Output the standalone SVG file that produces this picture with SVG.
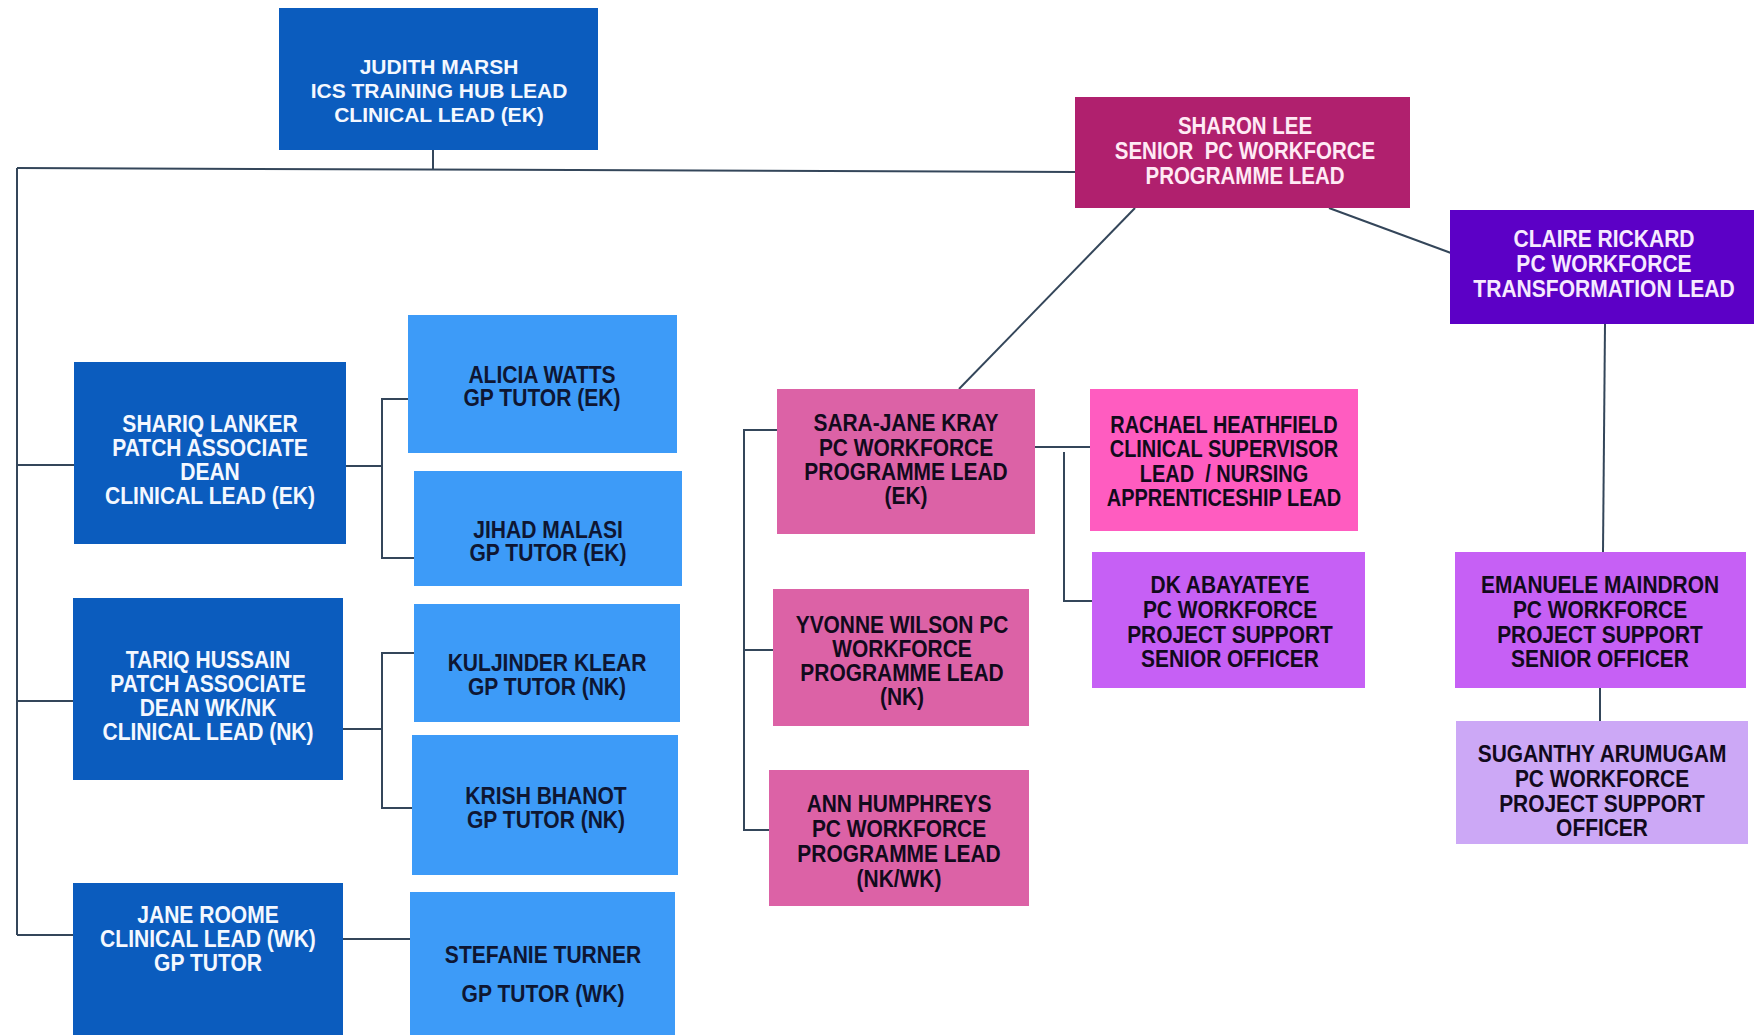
<svg xmlns="http://www.w3.org/2000/svg" width="1754" height="1035" viewBox="0 0 1754 1035">
<style>
  text { font-family: "Liberation Sans", Arial, sans-serif; font-weight: bold; font-size: 23px; text-anchor: middle; }
  .j text { font-size: 21px; }
  .lt { fill: #F4F8FF; }
  .dk { fill: #120A1C; }
  .nv { fill: #0E1633; }
  .b1 { fill: #0B5CBE; }
  .b2 { fill: #3D9BF8; }
  .p1 { fill: #B0206E; }
  .p2 { fill: #DC62A6; }
  .p3 { fill: #FF5CC0; }
  .v1 { fill: #5C00C6; }
  .v2 { fill: #C660F5; }
  .v3 { fill: #CCA8F6; }
  .con { stroke: #34465A; stroke-width: 2; fill: none; }
</style>
<rect width="1754" height="1035" fill="#FFFFFF"/>
<g id="connectors" class="con">
  <path d="M433 150 V169"/>
  <path d="M17 168 L1075 172"/>
  <path d="M17 168 V935"/>
  <path d="M17 465 H74"/>
  <path d="M17 701 H73"/>
  <path d="M17 935 H73"/>
  <path d="M346 466 H382"/>
  <path d="M408 399 H382 V558 H414"/>
  <path d="M343 729 H382"/>
  <path d="M414 653 H382 V808 H412"/>
  <path d="M343 939 H411"/>
  <path d="M1135 208 L959 389"/>
  <path d="M1329 208 L1451 253"/>
  <path d="M1605 324 L1603 552"/>
  <path d="M1600 688 V721"/>
  <path d="M777 430 H744 V830 H769"/>
  <path d="M744 650 H773"/>
  <path d="M1035 447 H1090"/>
  <path d="M1064 452 V601 H1092"/>
</g>
<g id="judith" class="j">
  <rect class="b1" x="279" y="8" width="319" height="142"/>
  <text class="lt" x="439" y="74">JUDITH MARSH</text>
  <text class="lt" x="439" y="98">ICS TRAINING HUB LEAD</text>
  <text class="lt" x="439" y="122">CLINICAL LEAD (EK)</text>
</g>
<g id="sharon">
  <rect class="p1" x="1075" y="97" width="335" height="111"/>
  <g transform="translate(1245 0) scale(0.89 1)" fill="#FFEAF5">
    <text x="0" y="134">SHARON LEE</text>
    <text x="0" y="159" xml:space="preserve">SENIOR  PC WORKFORCE</text>
    <text x="0" y="184">PROGRAMME LEAD</text>
  </g>
</g>
<g id="claire">
  <rect class="v1" x="1450" y="210" width="310" height="114"/>
  <g transform="translate(1604 0) scale(0.915 1)" fill="#F6EAFF">
    <text x="0" y="247">CLAIRE RICKARD</text>
    <text x="0" y="272">PC WORKFORCE</text>
    <text x="0" y="297">TRANSFORMATION LEAD</text>
  </g>
</g>
<g id="shariq">
  <rect class="b1" x="74" y="362" width="272" height="182"/>
  <g transform="translate(210 0) scale(0.915 1)" class="lt">
    <text x="0" y="432">SHARIQ LANKER</text>
    <text x="0" y="456">PATCH ASSOCIATE</text>
    <text x="0" y="480">DEAN</text>
    <text x="0" y="504">CLINICAL LEAD (EK)</text>
  </g>
</g>
<g id="tariq">
  <rect class="b1" x="73" y="598" width="270" height="182"/>
  <g transform="translate(208 0) scale(0.915 1)" class="lt">
    <text x="0" y="668">TARIQ HUSSAIN</text>
    <text x="0" y="692">PATCH ASSOCIATE</text>
    <text x="0" y="716">DEAN WK/NK</text>
    <text x="0" y="740">CLINICAL LEAD (NK)</text>
  </g>
</g>
<g id="jane">
  <rect class="b1" x="73" y="883" width="270" height="160"/>
  <g transform="translate(208 0) scale(0.915 1)" class="lt">
    <text x="0" y="923">JANE ROOME</text>
    <text x="0" y="947">CLINICAL LEAD (WK)</text>
    <text x="0" y="971">GP TUTOR</text>
  </g>
</g>
<g id="alicia">
  <rect class="b2" x="408" y="315" width="269" height="138"/>
  <g transform="translate(542 0) scale(0.915 1)" class="nv">
    <text x="0" y="383">ALICIA WATTS</text>
    <text x="0" y="406">GP TUTOR (EK)</text>
  </g>
</g>
<g id="jihad">
  <rect class="b2" x="414" y="471" width="268" height="115"/>
  <g transform="translate(548 0) scale(0.915 1)" class="nv">
    <text x="0" y="538">JIHAD MALASI</text>
    <text x="0" y="561">GP TUTOR (EK)</text>
  </g>
</g>
<g id="kuljinder">
  <rect class="b2" x="414" y="604" width="266" height="118"/>
  <g transform="translate(547 0) scale(0.915 1)" class="nv">
    <text x="0" y="671">KULJINDER KLEAR</text>
    <text x="0" y="695">GP TUTOR (NK)</text>
  </g>
</g>
<g id="krish">
  <rect class="b2" x="412" y="735" width="266" height="140"/>
  <g transform="translate(546 0) scale(0.915 1)" class="nv">
    <text x="0" y="804">KRISH BHANOT</text>
    <text x="0" y="828">GP TUTOR (NK)</text>
  </g>
</g>
<g id="stefanie">
  <rect class="b2" x="410" y="892" width="265" height="150"/>
  <g transform="translate(543 0) scale(0.915 1)" class="nv">
    <text x="0" y="963">STEFANIE TURNER</text>
    <text x="0" y="1002">GP TUTOR (WK)</text>
  </g>
</g>
<g id="sarajane">
  <rect class="p2" x="777" y="389" width="258" height="145"/>
  <g transform="translate(906 0) scale(0.91 1)" class="dk">
    <text x="0" y="431">SARA-JANE KRAY</text>
    <text x="0" y="456">PC WORKFORCE</text>
    <text x="0" y="480">PROGRAMME LEAD</text>
    <text x="0" y="504">(EK)</text>
  </g>
</g>
<g id="yvonne">
  <rect class="p2" x="773" y="589" width="256" height="137"/>
  <g transform="translate(902 0) scale(0.91 1)" class="dk">
    <text x="0" y="633">YVONNE WILSON PC</text>
    <text x="0" y="657">WORKFORCE</text>
    <text x="0" y="681">PROGRAMME LEAD</text>
    <text x="0" y="705">(NK)</text>
  </g>
</g>
<g id="ann">
  <rect class="p2" x="769" y="770" width="260" height="136"/>
  <g transform="translate(899 0) scale(0.91 1)" class="dk">
    <text x="0" y="812">ANN HUMPHREYS</text>
    <text x="0" y="837">PC WORKFORCE</text>
    <text x="0" y="862">PROGRAMME LEAD</text>
    <text x="0" y="887">(NK/WK)</text>
  </g>
</g>
<g id="rachael">
  <rect class="p3" x="1090" y="389" width="268" height="142"/>
  <g transform="translate(1224 0) scale(0.867 1)" class="dk">
    <text x="0" y="433">RACHAEL HEATHFIELD</text>
    <text x="0" y="457">CLINICAL SUPERVISOR</text>
    <text x="0" y="482" xml:space="preserve">LEAD  / NURSING</text>
    <text x="0" y="506">APPRENTICESHIP LEAD</text>
  </g>
</g>
<g id="dk">
  <rect class="v2" x="1092" y="552" width="273" height="136"/>
  <g transform="translate(1230 0) scale(0.91 1)" class="dk">
    <text x="0" y="593">DK ABAYATEYE</text>
    <text x="0" y="618">PC WORKFORCE</text>
    <text x="0" y="643">PROJECT SUPPORT</text>
    <text x="0" y="667">SENIOR OFFICER</text>
  </g>
</g>
<g id="emanuele">
  <rect class="v2" x="1455" y="552" width="291" height="136"/>
  <g transform="translate(1600 0) scale(0.91 1)" class="dk">
    <text x="0" y="593">EMANUELE MAINDRON</text>
    <text x="0" y="618">PC WORKFORCE</text>
    <text x="0" y="643">PROJECT SUPPORT</text>
    <text x="0" y="667">SENIOR OFFICER</text>
  </g>
</g>
<g id="suganthy">
  <rect class="v3" x="1456" y="721" width="292" height="123"/>
  <g transform="translate(1602 0) scale(0.91 1)" class="dk">
    <text x="0" y="762">SUGANTHY ARUMUGAM</text>
    <text x="0" y="787">PC WORKFORCE</text>
    <text x="0" y="812">PROJECT SUPPORT</text>
    <text x="0" y="836">OFFICER</text>
  </g>
</g>
</svg>
